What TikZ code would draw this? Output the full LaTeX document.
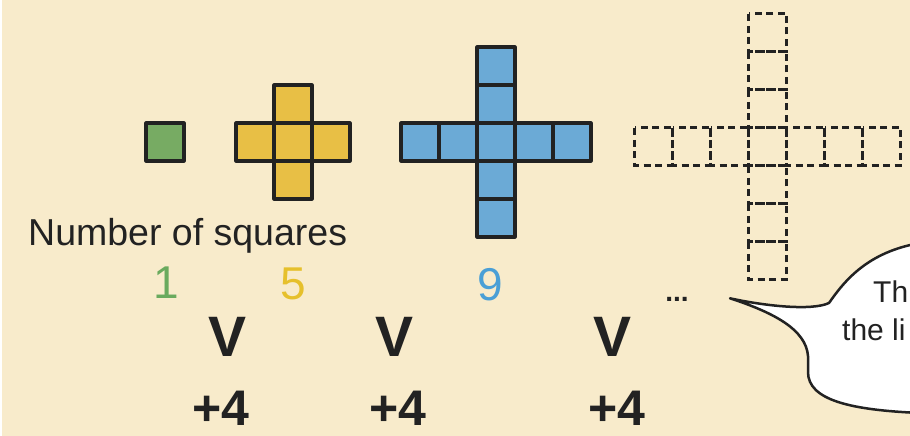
\documentclass[tikz,border=0pt]{standalone}
\usepackage{fontspec}
\setmainfont{Liberation Sans}
\definecolor{bg}{HTML}{F8EBCB}
\definecolor{gfill}{HTML}{77AB63}
\definecolor{yfill}{HTML}{E8BF45}
\definecolor{bfill}{HTML}{6BAAD6}
\definecolor{gtext}{HTML}{6AAA5E}
\definecolor{ytext}{HTML}{E6C02C}
\definecolor{btext}{HTML}{4A9FD6}
\definecolor{ink}{HTML}{222222}
\tikzset{
  cell/.style={draw=ink, line width=3.1pt, line join=round},
  dcell/.style={draw=ink, line width=2.5pt, dash pattern=on 7pt off 4.5pt, dash phase=-1pt},
  txt/.style={inner sep=0pt, anchor=base, text=ink},
}
\newcommand{\fs}[1]{\fontsize{#1}{#1}\selectfont}
\begin{document}
\begin{tikzpicture}[x=1pt,y=-1pt]
\useasboundingbox (0,0) rectangle (910,436);
\fill[bg] (0,0) rectangle (910,436);
\fill[white] (0,0) rectangle (1.5,436);
\begin{scope}
\clip (0,0) rectangle (910,436);
% green
\draw[cell, fill=gfill] (146,123) rectangle (184,161);
% yellow
\foreach \x in {236,274,312} \draw[cell, fill=yfill] (\x,123) rectangle ++(38,38);
\foreach \y in {85,161} \draw[cell, fill=yfill] (274,\y) rectangle ++(38,38);
% blue
\foreach \x in {401,439,477,515,553} \draw[cell, fill=bfill] (\x,123) rectangle ++(38,38);
\foreach \y in {47,85,161,199} \draw[cell, fill=bfill] (477,\y) rectangle ++(38,38);
% dashed
\foreach \x in {634.7,672.7,710.7,748.7,786.7,824.7,862.7} \draw[dcell] (\x,127.3) rectangle ++(38,38);
\foreach \y in {13.3,51.3,89.3,165.3,203.3,241.3} \draw[dcell] (748.7,\y) rectangle ++(38,38);
% texts
\node[txt, anchor=base west] (title) at (28,245) {\fs{37.5}Number of squares};
\node[txt, text=gtext] (n1) at (166,298) {\fs{46}1};
\node[txt, text=ytext] (n5) at (293,299) {\fs{46}5};
\node[txt, text=btext] (n9) at (490,300) {\fs{46}9};
\node[txt] (dots) at (677,301) {\fs{28}\bfseries ...};
\node[txt] (v1) at (228,356) {\fs{57}\bfseries V};
\node[txt] (v2) at (395,356) {\fs{57}\bfseries V};
\node[txt] (v3) at (613,356) {\fs{57}\bfseries V};
\node[txt] (p1) at (221,425) {\fs{50}\bfseries +4};
\node[txt] (p2) at (398,425) {\fs{50}\bfseries +4};
\node[txt] (p3) at (617,425) {\fs{50}\bfseries +4};
% speech bubble
\coordinate (tip) at (730,298.3);
\draw[ink, fill=white, line width=2.5pt, line join=round]
  (tip) .. controls (765,306) and (812,311) .. (829,303)
  .. controls (845,280) and (868,252) .. (920,243)
  -- (920,413)
  .. controls (850,410) and (808,400) .. (808,372)
  -- (808,356)
  .. controls (806,330) and (775,313) .. (tip) -- cycle;
\node[txt, anchor=base west] (b1) at (873,302) {\fs{30}Th};
\node[txt, anchor=base west] (b2) at (842,340) {\fs{30}the li};
\end{scope}
\end{tikzpicture}
\end{document}
